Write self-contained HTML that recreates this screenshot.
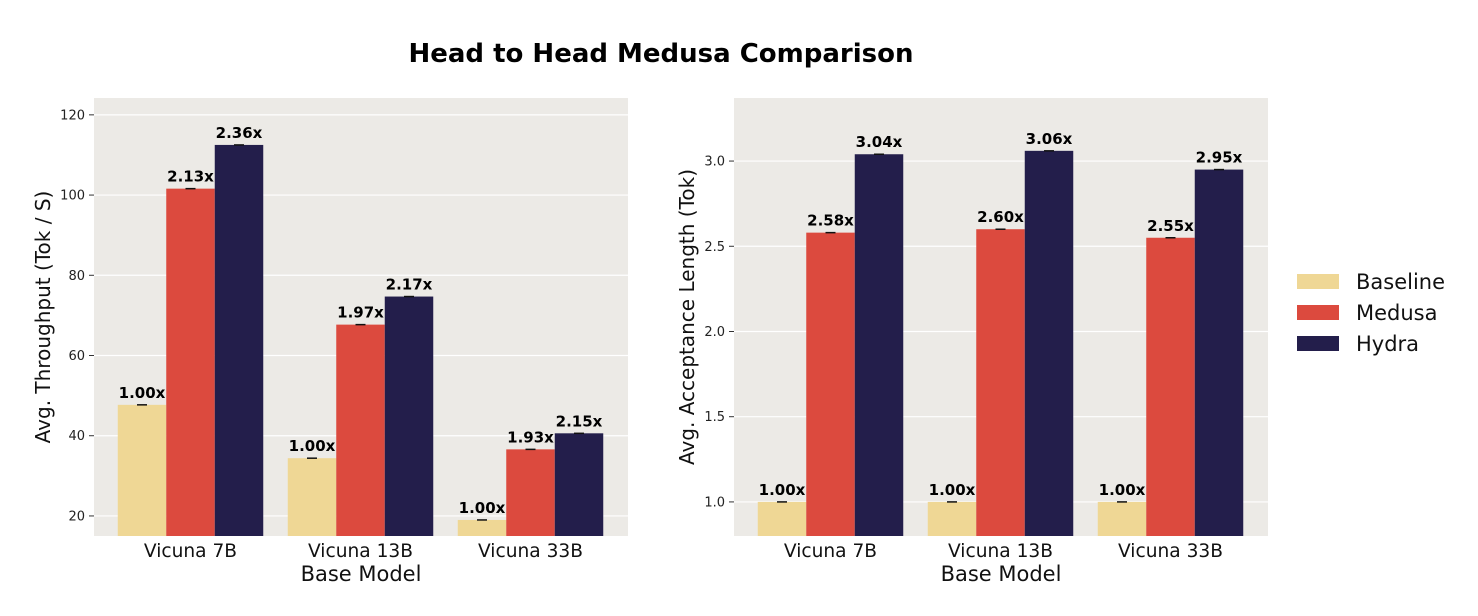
<!DOCTYPE html>
<html><head><meta charset="utf-8"><style>
html,body{margin:0;padding:0;background:#fff;width:1478px;height:616px;overflow:hidden}
svg text{font-family:"DejaVu Sans","Liberation Sans",sans-serif}
</style></head><body>
<svg id="chart" width="1478" height="616" xmlns="http://www.w3.org/2000/svg">
<text x="661" y="62" text-anchor="middle" font-size="26" font-weight="bold" fill="#000">Head to Head Medusa Comparison</text>
</svg>
<script>
const categories = ["Vicuna 7B","Vicuna 13B","Vicuna 33B"];
const seriesNames = ["Baseline","Medusa","Hydra"];
const throughputBaseline = [47.7, 34.4, 19.0];
const throughputMedusa = [101.6, 67.7, 36.6];
const throughputHydra = [112.5, 74.7, 40.6];
const throughputLabels = [["1.00x","2.13x","2.36x"],["1.00x","1.97x","2.17x"],["1.00x","1.93x","2.15x"]];
const throughputTicks = [20,40,60,80,100,120];
const acceptBaseline = [1.0, 1.0, 1.0];
const acceptMedusa = [2.58, 2.60, 2.55];
const acceptHydra = [3.04, 3.06, 2.95];
const acceptLabels = [["1.00x","2.58x","3.04x"],["1.00x","2.60x","3.06x"],["1.00x","2.55x","2.95x"]];
const acceptTicks = [1.0,1.5,2.0,2.5,3.0];
const colors = ["#efd795","#dc4a3e","#231e4b"];

const svg = document.getElementById('chart');
const NS = "http://www.w3.org/2000/svg";
function mk(tag, attrs, parent){const e=document.createElementNS(NS,tag);for(const k in attrs)e.setAttribute(k,attrs[k]);(parent||svg).appendChild(e);return e;}

function panel(opt){
  const g = mk('g',{});
  
  
  const {x0,x1,y0,y1,ymin,ymax} = opt;
  const ys = v => y1 - (v-ymin)/(ymax-ymin)*(y1-y0);
  const bg = mk('rect',{x:x0,y:y0,width:x1-x0,height:y1-y0,fill:"#eceae6"},g);
  
  
  opt.ticks.forEach(t=>{
    const y=ys(t);
    const gl=mk('line',{x1:x0,x2:x1,y1:y,y2:y,stroke:"#fff","stroke-width":1.2},g);
    
    
    mk('line',{x1:x0-5,x2:x0,y1:y,y2:y,stroke:"#333","stroke-width":1},g);
    const tl=mk('text',{x:x0-9,y:y+4.5,"text-anchor":"end","font-size":13,fill:"#222"},g);
    tl.textContent = opt.fmt(t);
    
    
  });
  const gap=170, bw=48.5;
  const firstC = x0 + 96.5;
  categories.forEach((c,i)=>{
    const cx = firstC + i*gap;
    opt.series.forEach((s,j)=>{
      const bx = cx - 1.5*bw + j*bw;
      const top = ys(s[i]);
      const r = mk('rect',{x:bx,y:top,width:bw,height:y1-top,fill:colors[j]},g);
      
      
      mk('line',{x1:bx+bw/2-5,x2:bx+bw/2+5,y1:top,y2:top,stroke:"#111","stroke-width":1.5},g);
      const lb = mk('text',{x:bx+bw/2,y:top-7,"text-anchor":"middle","font-size":15,"font-weight":"bold",fill:"#000"},g);
      lb.textContent = opt.labels[i][j];
      
      
    });
    const xl = mk('text',{x:cx,y:y1+21,"text-anchor":"middle","font-size":18.6,fill:"#111"},g);
    xl.textContent = c;
    
    
  });
  const xt = mk('text',{x:(x0+x1)/2,y:y1+45,"text-anchor":"middle","font-size":21,fill:"#111"},g);
  xt.textContent = "Base Model";
  
  
  const yt = mk('text',{x:opt.ytx,y:(y0+y1)/2,"text-anchor":"middle","font-size":20,fill:"#111",transform:`rotate(-90 ${opt.ytx} ${(y0+y1)/2})`},g);
  yt.textContent = opt.ytitle;
  
  
}
panel({name:'throughput-panel',x0:94,x1:628,y0:98,y1:536,ymin:15,ymax:124.2,ticks:throughputTicks,fmt:t=>String(t),
  series:[throughputBaseline,throughputMedusa,throughputHydra],labels:throughputLabels,ytitle:"Avg. Throughput (Tok / S)",ytx:50});
panel({name:'acceptance-panel',x0:734,x1:1268,y0:98,y1:536,ymin:0.80,ymax:3.37,ticks:acceptTicks,fmt:t=>t.toFixed(1),
  series:[acceptBaseline,acceptMedusa,acceptHydra],labels:acceptLabels,ytitle:"Avg. Acceptance Length (Tok)",ytx:694});

const lg = mk('g',{});


seriesNames.forEach((n,j)=>{
  const y = 274 + j*31;
  const r = mk('rect',{x:1297,y:y,width:42,height:15,fill:colors[j]},lg);
  
  
  const t = mk('text',{x:1356,y:y+15,"font-size":21,fill:"#111"},lg);
  t.textContent = n;
  
  
});
</script>
</body></html>
